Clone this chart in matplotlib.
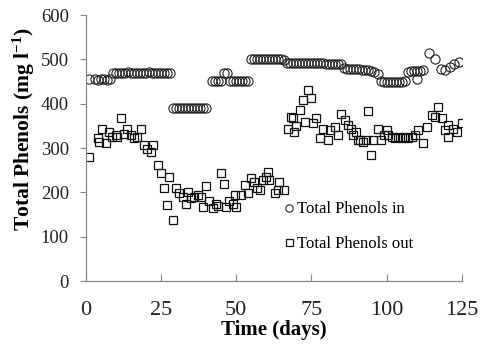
import matplotlib
matplotlib.use('Agg')
import matplotlib.pyplot as plt

# Total phenols at the inlet (circles)
days_in = [1, 3, 4, 5, 6, 7, 8,
           9, 10, 11, 12, 13, 14, 15, 16, 17, 18, 19, 20, 21, 22, 23, 24, 25, 26, 27, 28,
           29, 30, 31, 32, 33, 34, 35, 36, 37, 38, 39, 40,
           42, 43, 44, 45, 46, 47, 48, 49, 50, 51, 52, 53, 54,
           55, 56, 57, 58, 59, 60, 61, 62, 63, 64, 65, 66,
           67, 68, 69, 70, 71, 72, 73, 74, 75, 76, 77, 78, 79,
           80, 81, 82, 83, 84, 85,
           86, 87, 88, 89, 90, 91, 92, 93, 94, 95, 96, 97,
           98, 99, 100, 101, 102, 103, 104, 105, 106,
           107, 108, 109, 110, 111, 110, 112, 114, 116, 118, 119.5, 121, 122.5, 124]
phenols_in = [456, 455, 454, 455, 455, 454, 455,
              470, 470, 469, 470, 470, 471, 470, 470, 469, 470, 470, 470, 471, 470, 470, 469, 470, 470, 470, 470,
              391, 391, 390, 391, 391, 391, 390, 391, 391, 391, 390, 391,
              452, 452, 452, 452, 469, 469, 451, 451, 451, 451, 451, 451, 451,
              500, 500, 500, 500, 500, 500, 500, 500, 500, 500, 500, 499,
              493, 493, 493, 493, 493, 493, 493, 492, 492, 492, 492, 492, 492,
              490, 490, 490, 490, 490, 489,
              480, 479, 478, 478, 478, 478, 477, 477, 476, 475, 472, 468,
              451, 450, 450, 450, 450, 450, 450, 450, 451,
              472, 473, 473, 474, 473, 456, 476, 514, 501, 478, 476, 483, 489, 494]

# Total phenols at the outlet (squares)
days_out = [1, 4, 4.5, 5.5, 6.7, 7.8, 8.9, 10, 10.5, 11.7, 12.8, 13.9, 15, 16.1, 17.2, 18.3,
            19.4, 20.5, 21.6, 22.5, 23.9, 25, 26, 26.9, 27.8, 28.9, 30, 31, 32.2, 33.3, 34,
            35, 36.1, 37.2, 38.3, 38.9, 40, 41, 42.2, 43.3, 44, 45, 46.1, 46.7, 47.8, 48.9,
            49.5, 50, 51.7, 52.8, 53.9, 55, 56.1, 57, 57.8, 58.9, 60, 60.5, 61.1, 62.8, 63.9,
            64.4, 65.8, 67.2, 68.3, 69, 69.4, 70, 71.1, 72.2, 72.8, 73.9, 75, 75.5, 76.7,
            77.8, 78.9, 80.5, 81.1, 82.8, 83.9, 85, 86.1, 87.2, 88.3, 89, 90, 90.5, 91.1,
            92.2, 93.3, 93.9, 95, 95.5, 97.2, 98.3, 99, 100, 100.5, 101.7, 102.8, 103.9,
            105, 106.1, 107.2, 108.3, 109.4, 110.5, 112.2, 113.3, 115, 116.1, 117.2, 118.3,
            119.4, 120.5, 120.5, 122.2, 123.3, 125]
phenols_out = [280, 322, 314, 342, 311, 337, 326, 330, 326, 367, 332, 344, 329, 322, 326, 344,
               307, 299, 292, 307, 262, 243, 209, 171, 235, 138, 209, 198, 190, 175, 200,
               187, 190, 194, 190, 168, 214, 180, 164, 175, 170, 243, 220, 168, 180, 175,
               194, 168, 194, 217, 198, 232, 224, 210, 205, 228, 235, 247, 228, 199, 205,
               224, 205, 344, 371, 367, 337, 350, 386, 408, 359, 431, 412, 356, 367,
               322, 344, 318, 341, 348, 329, 378, 363, 352, 344, 330, 337, 318, 318,
               314, 318, 384, 284, 318, 344, 318, 330, 341, 329, 326, 322, 326,
               322, 326, 322, 326, 329, 341, 311, 348, 374, 371, 393, 367,
               341, 352, 326, 344, 337, 356]

x_ticks = [0, 25, 50, 75, 100, 125]
y_ticks = [0, 100, 200, 300, 400, 500, 600]

plt.rcParams['font.family'] = ['Liberation Serif', 'DejaVu Serif']
plt.rcParams['mathtext.fontset'] = 'custom'
plt.rcParams['mathtext.rm'] = 'Liberation Serif:bold'
plt.rcParams['mathtext.default'] = 'rm'

fig = plt.figure(figsize=(4.81, 3.51), dpi=100)
ax = fig.add_axes([0.178, 0.199, 0.782, 0.758])

ax.plot(days_in, phenols_in, linestyle='none', marker='o', markersize=6.6,
        markerfacecolor='none', markeredgecolor='#222222', markeredgewidth=0.8,
        label='Total Phenols in')
ax.plot(days_out, phenols_out, linestyle='none', marker='s', markersize=6.3,
        markerfacecolor='none', markeredgecolor='#111111', markeredgewidth=0.9,
        label='Total Phenols out')

ax.set_xlim(0, 125)
ax.set_ylim(0, 600)
ax.set_xticks(x_ticks)
ax.set_yticks(y_ticks)

for s in ['top', 'right']:
    ax.spines[s].set_visible(False)
for s in ['left', 'bottom']:
    ax.spines[s].set_color('#888888')
    ax.spines[s].set_linewidth(0.9)

ax.tick_params(axis='x', direction='in', length=5, color='#888888', pad=14,
               labelsize=16, labelcolor='#222222')
ax.tick_params(axis='y', direction='out', length=4, color='#888888', pad=8,
               labelsize=13.5, labelcolor='#222222')

ax.set_xlabel('Time (days)', fontsize=15, fontweight='bold', labelpad=0)
ax.set_ylabel('Total Phenols (mg l$^{-1}$)', fontsize=15.5, fontweight='bold')
ax.yaxis.set_label_coords(-0.13, 0.57)

ax.legend(loc='upper left', bbox_to_anchor=(0.51, 0.325), frameon=False,
          fontsize=12, handlelength=0.6, handletextpad=0.15, labelspacing=1.1,
          markerscale=0.8, borderaxespad=0)

fig.savefig('out.png', dpi=100)
